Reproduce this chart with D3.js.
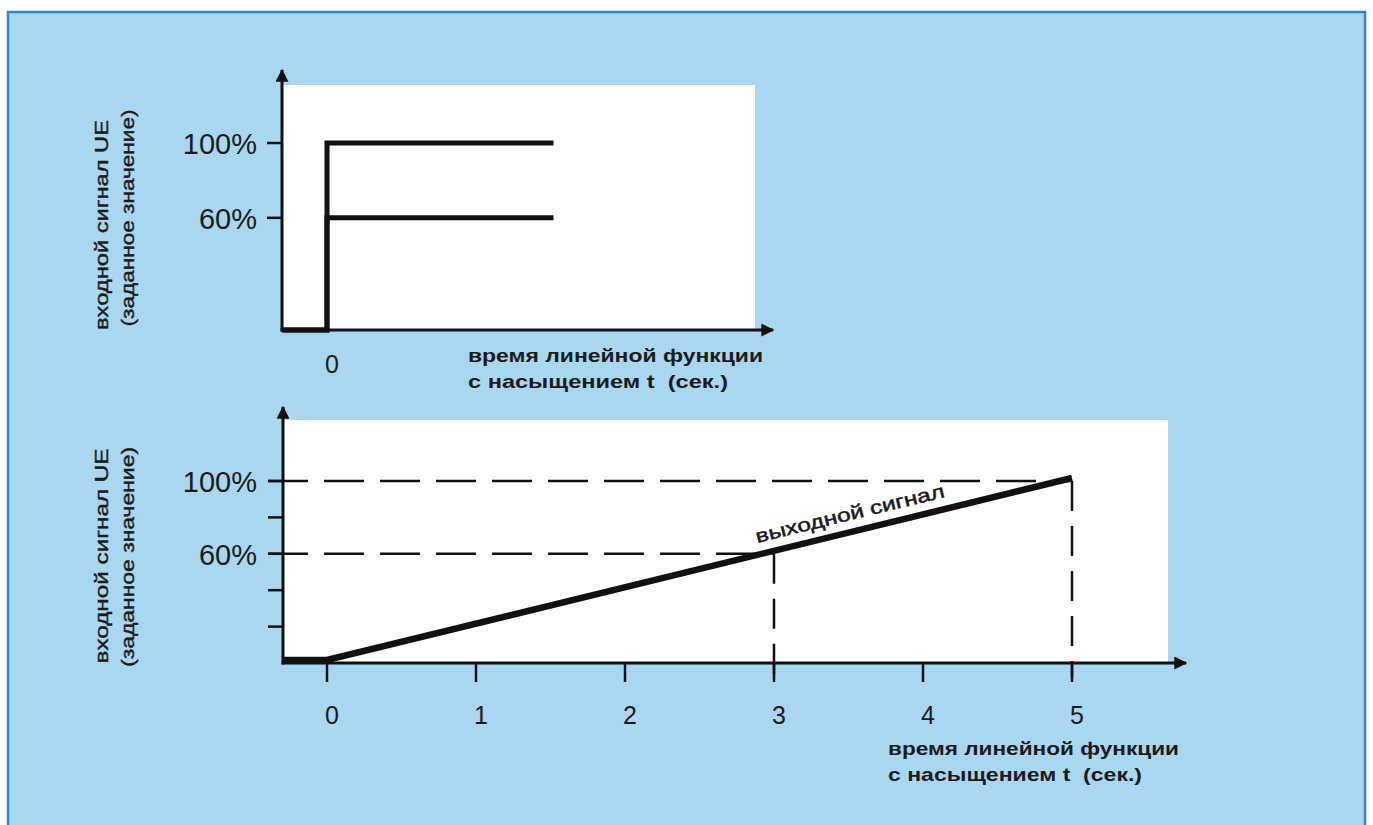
<!DOCTYPE html>
<html>
<head>
<meta charset="utf-8">
<script src="https://cdn.jsdelivr.net/npm/d3@7"></script>
<style>
  body { margin: 0; background: #fff; }
  svg text { font-family: "Liberation Sans", Arial, sans-serif; fill: #1b1b1b; white-space: pre; }
</style>
</head>
<body>
<div id="chart"></div>
<script>
// values
let setpoints = [60, 100];            // input step levels, %
let stepTimes = [-0.3, 0, 0, 1.52];    // time points of the step trace
let rampTimes = [-0.3, 0, 5];          // output ramp, seconds
let rampValues = [0, 0, 100];          // output ramp, %
let guidePoints = [{ t: 3, v: 60 }, { t: 5, v: 100 }];
let xTicks = [0, 1, 2, 3, 4, 5];
let topXTicks = [0];
let minorTicks = [20, 40, 60, 80, 100];
let yTitle = ["входной сигнал UE", "(заданное значение)"];
let xTitle = ["время линейной функции", "с насыщением t  (сек.)"];
let outLabel = "выходной сигнал";

let W = 1373, H = 825;

let svg = d3.select("#chart").append("svg")
  .attr("width", W)
  .attr("height", H);

// blue panel
svg.append("rect")
  .attr("x", 8).attr("y", 12)
  .attr("width", 1357).attr("height", 830)
  .attr("fill", "#a9d7ef")
  .attr("stroke", "#2f86cc")
  .attr("stroke-width", 2.5);

// arrow marker
let defs = svg.append("defs");
defs.append("marker")
  .attr("id", "arr")
  .attr("viewBox", "0 0 10 10")
  .attr("refX", 9).attr("refY", 5)
  .attr("markerWidth", 15).attr("markerHeight", 13)
  .attr("markerUnits", "userSpaceOnUse")
  .attr("orient", "auto")
  .append("path")
  .attr("d", "M0,0 L10,5 L0,10 Z")
  .attr("fill", "#111");

// shared time scale
let x = d3.scaleLinear().domain([0, 5]).range([327, 1072]);

function drawPanel(g, y, opt) {
  // white plot area
  g.append("rect")
    .attr("x", opt.left).attr("y", opt.top)
    .attr("width", opt.right - opt.left).attr("height", y(0) - opt.top)
    .attr("fill", "#fff");

  // y axis with arrow
  g.append("line")
    .attr("x1", opt.left).attr("y1", y(0) + 1.5)
    .attr("x2", opt.left).attr("y2", opt.yTip)
    .attr("stroke", "#111").attr("stroke-width", 3)
    .attr("marker-end", "url(#arr)");
  // x axis with arrow
  g.append("line")
    .attr("x1", opt.left - 1.5).attr("y1", y(0))
    .attr("x2", opt.xTip).attr("y2", y(0))
    .attr("stroke", "#111").attr("stroke-width", 3)
    .attr("marker-end", "url(#arr)");

  // y ticks
  g.selectAll(".ytick")
    .data(opt.yTicks)
    .join("line")
    .attr("x1", opt.left - 15).attr("x2", opt.left)
    .attr("y1", d => y(d)).attr("y2", d => y(d))
    .attr("stroke", "#111").attr("stroke-width", 2.5);

  // y labels
  g.selectAll(".ylab")
    .data(setpoints)
    .join("text")
    .attr("x", 257)
    .attr("y", d => y(d) + 11)
    .attr("text-anchor", "end")
    .attr("font-size", 29)
    .text(d => d + "%");

  // x tick labels
  g.selectAll(".xlab")
    .data(opt.xTicks)
    .join("text")
    .attr("x", d => x(d) + 5)
    .attr("y", opt.xLabY)
    .attr("text-anchor", "middle")
    .attr("font-size", 25)
    .text(d => d);

  // y title, rotated
  yTitle.forEach((s, i) => {
    g.append("text")
      .attr("transform", `translate(${opt.yTitleX[i]},${opt.yTitleY[i]}) rotate(-90)`)
      .attr("text-anchor", "middle")
      .attr("font-size", 19)
      .attr("stroke", "#1b1b1b")
      .attr("stroke-width", 0.4)
      .attr("textLength", opt.yTitleLen[i])
      .attr("lengthAdjust", "spacingAndGlyphs")
      .text(s);
  });

  // x title
  xTitle.forEach((s, i) => {
    g.append("text")
      .attr("x", opt.xTitleX)
      .attr("y", opt.xTitleY + i * 26)
      .attr("font-size", 19)
      .attr("font-weight", "bold")
      .attr("textLength", opt.xTitleLen[i])
      .attr("lengthAdjust", "spacingAndGlyphs")
      .text(s);
  });
}

// ---- top chart: step input
let yTop = d3.scaleLinear().domain([0, 100]).range([330, 143]);
let gTop = svg.append("g");
drawPanel(gTop, yTop, {
  left: 282, right: 755, top: 85, yTip: 70, xTip: 773,
  yTicks: setpoints, xTicks: topXTicks, xLabY: 373,
  yTitleX: [108, 134], yTitleY: [225, 218], yTitleLen: [210, 217],
  xTitleX: 468, xTitleY: 362, xTitleLen: [295, 260]
});

let stepLine = d3.line().x(d => x(d[0])).y(d => yTop(d[1]));
setpoints.forEach(lv => {
  let pts = stepTimes.map((t, i) => [t, i < 2 ? 0 : lv]);
  gTop.append("path")
    .attr("d", stepLine(pts))
    .attr("fill", "none")
    .attr("stroke", "#111")
    .attr("stroke-width", 5)
    .attr("stroke-linejoin", "miter");
});

// ---- bottom chart: ramp output
let yBot = d3.scaleLinear().domain([0, 100]).range([663, 481]);
let gBot = svg.append("g");
drawPanel(gBot, yBot, {
  left: 283, right: 1168, top: 420, yTip: 407, xTip: 1186,
  yTicks: minorTicks, xTicks: xTicks, xLabY: 724,
  yTitleX: [108, 134], yTitleY: [556, 557], yTitleLen: [215, 220],
  xTitleX: 888, xTitleY: 755, xTitleLen: [291, 254]
});

// x ticks below axis
gBot.selectAll(".xtick")
  .data(xTicks)
  .join("line")
  .attr("x1", d => x(d)).attr("x2", d => x(d))
  .attr("y1", yBot(0)).attr("y2", yBot(0) + 19)
  .attr("stroke", "#111").attr("stroke-width", 2.5);

// dashed guides
guidePoints.forEach(p => {
  gBot.append("line")
    .attr("x1", 268).attr("x2", x(p.t))
    .attr("y1", yBot(p.v)).attr("y2", yBot(p.v))
    .attr("stroke", "#111").attr("stroke-width", 2.5)
    .attr("stroke-dasharray", "40 16");
  gBot.append("line")
    .attr("x1", x(p.t)).attr("x2", x(p.t))
    .attr("y1", yBot(p.v)).attr("y2", yBot(0) + 14)
    .attr("stroke", "#111").attr("stroke-width", 2.5)
    .attr("stroke-dasharray", "30 15");
});

// output ramp
let rampLine = d3.line().x(d => x(d[0])).y(d => yBot(d[1]));
gBot.append("path")
  .attr("d", rampLine(rampTimes.map((t, i) => [t, rampValues[i]])))
  .attr("fill", "none")
  .attr("stroke", "#111")
  .attr("stroke-width", 6.5)
  .attr("transform", "translate(0,-3)");

// label along the ramp
let ang = Math.atan2(yBot(100) - yBot(0), x(5) - x(0)) * 180 / Math.PI;
let lt = 3.52;
gBot.append("text")
  .attr("transform", `translate(${x(lt)},${yBot(lt * 20) - 15}) rotate(${ang})`)
  .attr("text-anchor", "middle")
  .attr("font-size", 19)
  .attr("stroke", "#1b1b1b")
  .attr("stroke-width", 0.5)
  .attr("textLength", 194)
  .attr("lengthAdjust", "spacingAndGlyphs")
  .text(outLabel);
</script>
</body>
</html>
